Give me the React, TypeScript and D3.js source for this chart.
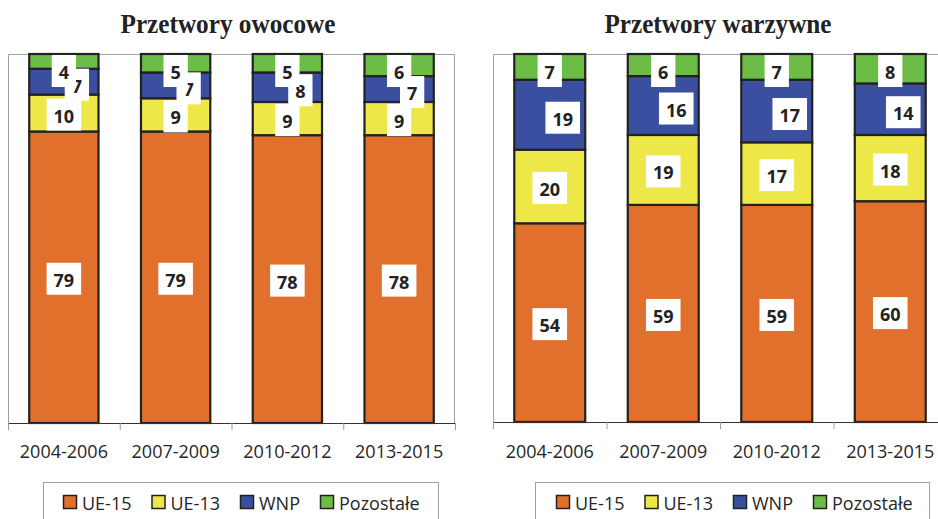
import React from "react";
import * as d3 from "d3";

const categories = ["2004-2006", "2007-2009", "2010-2012", "2013-2015"];
const seriesNames = ["UE-15", "UE-13", "WNP", "Pozostałe"];
const seriesKeys = ["ue15", "ue13", "wnp", "other"];

const fruitUE15 = [79, 79, 78, 78];
const fruitUE13 = [10, 9, 9, 9];
const fruitWNP = [7, 7, 8, 7];
const fruitOther = [4, 5, 5, 6];

const vegUE15 = [54, 59, 59, 60];
const vegUE13 = [20, 19, 17, 18];
const vegWNP = [19, 16, 17, 14];
const vegOther = [7, 6, 7, 8];

const colors = ["#E0702B", "#EDE847", "#3A4FA0", "#6CBD45"];

const W = 938;
const H = 519;
const labelFont = "'Open Sans', 'DejaVu Sans', sans-serif";

function measure(text: string, font: string): number {
  const c = document.createElement("canvas");
  const ctx = c.getContext("2d");
  if (!ctx) return text.length * 10;
  ctx.font = font;
  return ctx.measureText(text).width;
}

type PanelProps = {
  title: string;
  a: number[];
  b: number[];
  c: number[];
  d: number[];
  x0: number;
  x1: number;
  top: number;
  bottom: number;
  pad: number;
  titleX: number;
  titleLen: number;
  legendBox: [number, number];
  legendStart: number;
};

function Panel(p: PanelProps) {
  const rows = categories.map((cat, i) => ({
    cat,
    ue15: p.a[i],
    ue13: p.b[i],
    wnp: p.c[i],
    other: p.d[i],
  }));
  const stack = d3.stack<any>().keys(seriesKeys)(rows);
  const x = d3
    .scaleBand<string>()
    .domain(categories)
    .range([p.x0, p.x1])
    .paddingInner(p.pad)
    .paddingOuter(p.pad / 2);
  const y = d3.scaleLinear().domain([0, 100]).range([p.bottom, p.top]);
  const step = x.step();
  const bw = x.bandwidth();
  const tickXs = d3.range(categories.length + 1).map((i) => p.x0 + i * step);

  const boxH = 32;
  const labels: any[] = [];
  stack.forEach((s, si) => {
    s.forEach((seg, ci) => {
      const v = seg[1] - seg[0];
      const txt = String(v);
      const cx = (x(categories[ci]) as number) + bw / 2 + (si === 2 ? 13 : 0);
      let cy = (y(seg[0]) + y(seg[1])) / 2 + (si === 2 ? 3 : 1.5);
      if (cy - boxH / 2 < p.top + 1) cy = p.top + 1 + boxH / 2;
      const tw = measure(txt, `700 18px ${labelFont}`);
      labels.push({ key: `${si}-${ci}`, cx, cy, txt, bwid: tw + 14 });
    });
  });

  const lfont = `18px ${labelFont}`;
  let lx = p.legendStart;
  const legendItems = seriesNames.map((n, i) => {
    const item = { n, i, x: lx };
    lx += 13 + 6 + measure(n, lfont) + 20;
    return item;
  });

  return (
    <g>
      <text
        x={p.titleX}
        y={33}
        textAnchor="middle"
        fontFamily="'Liberation Serif', 'Times New Roman', serif"
        fontWeight="bold"
        fontSize={27}
        fill="#222"
        textLength={p.titleLen}
        lengthAdjust="spacingAndGlyphs"
      >
        {p.title}
      </text>
      {/* plot frame */}
      <path
        d={`M${p.x0 + 0.5},${p.bottom}V${p.top + 0.5}H${p.x1 - 0.5}V${p.bottom}`}
        fill="none"
        stroke="#a0a0a0"
        strokeWidth={1}
      />
      {stack.map((s, si) => (
        <g key={si}>
          {s.map((seg, ci) => (
            <rect
              key={ci}
              x={x(categories[ci])}
              y={y(seg[1])}
              width={bw}
              height={y(seg[0]) - y(seg[1])}
              fill={colors[si]}
              stroke="#222"
              strokeWidth={2.2}
            />
          ))}
        </g>
      ))}
      <line x1={p.x0} x2={p.x1} y1={p.bottom + 0.5} y2={p.bottom + 0.5} stroke="#333" strokeWidth={1.2} />
      {tickXs.map((tx, i) => (
        <line key={i} x1={tx + 0.5} x2={tx + 0.5} y1={p.bottom} y2={p.bottom + 7} stroke="#9a9a9a" strokeWidth={1} />
      ))}
      {categories.map((cat) => (
        <text
          key={cat}
          x={(x(cat) as number) + bw / 2}
          y={451}
          textAnchor="middle"
          dominantBaseline="central"
          fontFamily={labelFont}
          fontSize={18}
          fill="#262626"
        >
          {cat}
        </text>
      ))}
      {labels.map((l) => (
        <g key={l.key}>
          <rect x={l.cx - l.bwid / 2} y={l.cy - boxH / 2} width={l.bwid} height={boxH} fill="#fff" />
          <text
            x={l.cx}
            y={l.cy + 1}
            textAnchor="middle"
            dominantBaseline="central"
            fontFamily={labelFont}
            fontWeight={700}
            fontSize={18}
            fill="#222"
          >
            {l.txt}
          </text>
        </g>
      ))}
      <rect
        x={p.legendBox[0] + 0.5}
        y={482.5}
        width={p.legendBox[1] - p.legendBox[0]}
        height={60}
        fill="#fff"
        stroke="#a0a0a0"
        strokeWidth={1}
      />
      {legendItems.map((it) => (
        <g key={it.n}>
          <rect x={it.x + 0.5} y={495.5} width={13} height={13} fill={colors[it.i]} stroke="#222" strokeWidth={1.5} />
          <text
            x={it.x + 19}
            y={503}
            dominantBaseline="central"
            fontFamily={labelFont}
            fontSize={18}
            fill="#262626"
          >
            {it.n}
          </text>
        </g>
      ))}
    </g>
  );
}

export default function App() {
  return (
    <svg
      width={W}
      height={H}
      style={{ position: "absolute", left: 0, top: 0, background: "#fff" }}
    >
      <rect width={W} height={H} fill="#fff" />
      <Panel
        title="Przetwory owocowe"
        a={fruitUE15}
        b={fruitUE13}
        c={fruitWNP}
        d={fruitOther}
        x0={8}
        x1={455}
        top={54}
        bottom={423}
        pad={0.38}
        titleX={228}
        titleLen={215}
        legendBox={[43, 438]}
        legendStart={63}
      />
      <Panel
        title="Przetwory warzywne"
        a={vegUE15}
        b={vegUE13}
        c={vegWNP}
        d={vegOther}
        x0={493}
        x1={947}
        top={54}
        bottom={422}
        pad={0.375}
        titleX={718}
        titleLen={227}
        legendBox={[535, 929]}
        legendStart={556}
      />
    </svg>
  );
}
